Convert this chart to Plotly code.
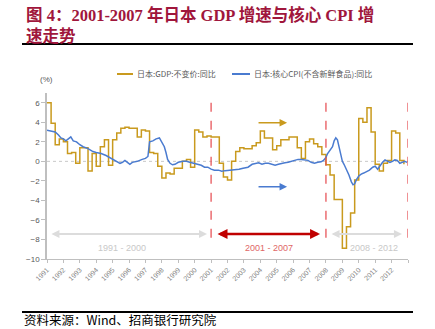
import plotly.graph_objects as go

# ---------------- data ----------------
years = list(range(1991, 2013))
tick_labels = [str(y) for y in years]

# Japan real GDP YoY, quarterly (1991Q1 .. 2012Q4)
gdp_q = [
    6.0, 3.9, 1.7, 2.3,
    2.0, 0.8, 0.9, -0.2,
    1.4, 1.4, -1.0, 0.8,
    -0.5, 1.5, 2.2, -0.4,
    2.2, 2.9, 3.4, 3.5,
    3.4, 3.4, 2.5, 3.2,
    3.1, 0.9, 0.8, -0.5,
    -1.7, -1.2, -1.3, -0.7,
    -0.7, 0.0, 0.2, -0.6,
    3.2, 3.0, 2.5, 2.6,
    2.5, 2.5, -0.2, -1.6,
    -1.9, 0.0, 1.0, 1.4,
    1.3, 1.3, 1.6, 1.9,
    3.1, 2.4, 2.4, 1.2,
    1.6, 2.2, 2.2, 2.5,
    2.5, 1.4, 0.3, 2.0,
    2.3, 1.8, 1.5, 0.7,
    -0.35, -1.4, -3.9, -3.9,
    -8.9, -6.7, -5.3, -1.9,
    4.4, 4.0, 5.5, 3.0,
    -0.3, -1.0, -0.2, 0.1,
    3.1, 2.9, 0.1, -0.3,
]
gdp_x = [1991 + i * 0.25 for i in range(len(gdp_q))]

# Japan core CPI (ex fresh food) YoY
cpi_x = [1991.0, 1991.25, 1991.5, 1991.7, 1991.85, 1992.0, 1992.15, 1992.3, 1992.45, 1992.6,
         1992.8, 1993.0, 1993.2, 1993.5, 1993.8, 1994.0, 1994.3, 1994.6, 1994.9, 1995.1,
         1995.3, 1995.45, 1995.6, 1995.75, 1995.9, 1996.05, 1996.2, 1996.5, 1996.8, 1997.0,
         1997.15, 1997.25, 1997.45, 1997.65, 1997.85, 1998.0, 1998.15, 1998.25, 1998.35, 1998.5,
         1998.65, 1998.8, 1999.0, 1999.3, 1999.5, 1999.7, 1999.9, 2000.2, 2000.4, 2000.6,
         2000.8, 2001.0, 2001.2, 2001.45, 2001.65, 2001.85, 2002.1, 2002.4, 2002.7, 2002.95,
         2003.25, 2003.5, 2003.7, 2003.9, 2004.1, 2004.3, 2004.5, 2004.7, 2004.9, 2005.1,
         2005.3, 2005.5, 2005.7, 2005.9, 2006.1, 2006.3, 2006.5, 2006.7, 2006.9, 2007.1,
         2007.3, 2007.5, 2007.7, 2007.85, 2008.0, 2008.1, 2008.25, 2008.4, 2008.5, 2008.6,
         2008.7, 2008.8, 2008.9, 2009.0, 2009.1, 2009.25, 2009.4, 2009.55, 2009.65, 2009.75,
         2009.85, 2010.0, 2010.15, 2010.3, 2010.45, 2010.65, 2010.85, 2011.0, 2011.15, 2011.3,
         2011.45, 2011.6, 2011.75, 2011.9, 2012.05, 2012.2, 2012.35, 2012.5, 2012.65, 2012.8,
         2012.95]
cpi_y = [3.2, 3.1, 3.0, 2.7, 2.4, 2.3, 2.1, 2.3, 2.5, 2.1,
         2.0, 1.7, 1.5, 1.3, 1.0, 0.9, 0.8, 0.6, 0.3, 0.1,
         -0.1, -0.2, -0.1, 0.1, -0.1, -0.3, -0.1, 0.0, 0.2, 0.3,
         0.5, 2.0, 2.1, 2.3, 2.4, 1.9, 1.5, 0.9, 0.2, -0.2,
         -0.35, -0.3, -0.1, 0.0, 0.0, -0.1, -0.2, -0.3, -0.4, -0.6,
         -0.6, -0.8, -0.9, -0.9, -1.0, -0.95, -0.9, -0.9, -0.8, -0.7,
         -0.6, -0.3, -0.2, -0.15, -0.3, -0.2, -0.2, -0.3, -0.4, -0.3,
         -0.2, -0.15, -0.1, 0.0, 0.1, 0.2, 0.2, 0.15, 0.1, -0.1,
         -0.2, -0.1, -0.05, 0.1, 0.4, 0.8, 1.1, 1.5, 2.1, 2.4,
         2.2, 1.4, 0.6, 0.0, -0.3, -0.8, -1.4, -2.1, -2.4, -2.3,
         -1.9, -1.5, -1.3, -1.2, -1.1, -0.9, -0.6, -0.5, -0.8, -0.4,
         -0.1, 0.15, 0.0, -0.1, 0.0, 0.15, 0.1, -0.2, -0.1, 0.0,
         -0.1]

gdp_name = "日本:GDP:不变价:同比"
cpi_name = "日本:核心CPI(不含新鲜食品):同比"
period_labels = ["1991 - 2000", "2001 - 2007", "2008 - 2012"]
period_bounds = [2001, 2008, 2013]

# ---------------- layout geometry ----------------
W, H = 435, 329
L, R, T, B = 47, 408, 93, 259


def px_x(px):
    return (px - L) / (R - L)


def px_y(py):
    return (B - py) / (B - T)


GOLD = "#C99A1E"
BLUE = "#4A7BD0"
RED_DASH = "#E5484D"
GREY_TXT = "#595959"

fig = go.Figure()
fig.add_trace(go.Scatter(x=gdp_x, y=gdp_q, mode="lines", line=dict(color=GOLD, width=1.5, shape="hv"),
                         name=gdp_name, showlegend=False))
fig.add_trace(go.Scatter(x=cpi_x, y=cpi_y, mode="lines", line=dict(color=BLUE, width=1.5),
                         name=cpi_name, showlegend=False))

shapes = []
# zero reference line
shapes.append(dict(type="line", xref="x", yref="y", x0=1991, x1=2013, y0=0, y1=0,
                   line=dict(color="#C8C8C8", width=1, dash="dot"), layer="below"))
# period separators
for xb in period_bounds:
    shapes.append(dict(type="line", xref="x", yref="y", x0=xb, x1=xb, y0=6.0, y1=-8.5,
                       line=dict(color=RED_DASH, width=1.2, dash="dash")))
# header / footer rules
shapes.append(dict(type="line", xref="paper", yref="paper", x0=px_x(22), x1=px_x(413),
                   y0=px_y(44), y1=px_y(44), line=dict(color="#000000", width=2)))
shapes.append(dict(type="line", xref="paper", yref="paper", x0=px_x(22), x1=px_x(413),
                   y0=px_y(312), y1=px_y(312), line=dict(color="#000000", width=2)))
# legend samples
shapes.append(dict(type="line", xref="paper", yref="paper", x0=px_x(117), x1=px_x(133),
                   y0=px_y(74), y1=px_y(74), line=dict(color=GOLD, width=2)))
shapes.append(dict(type="line", xref="paper", yref="paper", x0=px_x(232), x1=px_x(250),
                   y0=px_y(74), y1=px_y(74), line=dict(color=BLUE, width=2)))

annotations = []
annotations.append(dict(xref="paper", yref="paper", x=px_x(24), y=px_y(3), xanchor="left", yanchor="top",
                        align="left", showarrow=False,
                        text="<b>图 4：2001-2007 年日本 GDP 增速与核心 CPI 增<br>速走势</b>",
                        font=dict(family="Liberation Serif, Noto Sans CJK SC", size=16.5, color="#A0163C")))
annotations.append(dict(xref="paper", yref="paper", x=px_x(22), y=px_y(319), xanchor="left", yanchor="middle",
                        showarrow=False, text="资料来源：Wind、招商银行研究院",
                        font=dict(family="Noto Sans CJK SC", size=12.5, color="#000000")))
annotations.append(dict(xref="paper", yref="paper", x=px_x(135), y=px_y(74), xanchor="left", yanchor="middle",
                        showarrow=False, text=gdp_name,
                        font=dict(family="Noto Sans CJK SC", size=8, color=GREY_TXT)))
annotations.append(dict(xref="paper", yref="paper", x=px_x(252), y=px_y(74), xanchor="left", yanchor="middle",
                        showarrow=False, text=cpi_name,
                        font=dict(family="Noto Sans CJK SC", size=8, color=GREY_TXT)))
annotations.append(dict(xref="paper", yref="paper", x=px_x(46), y=px_y(80), xanchor="center", yanchor="middle",
                        showarrow=False, text="(%)",
                        font=dict(family="Liberation Sans", size=8, color=GREY_TXT)))

# trend arrows
annotations.append(dict(xref="x", yref="y", axref="x", ayref="y", x=2005.63, y=3.95, ax=2003.8, ay=3.95,
                        showarrow=True, arrowhead=2, arrowsize=1, arrowwidth=1.5, arrowcolor=GOLD, text=""))
annotations.append(dict(xref="x", yref="y", axref="x", ayref="y", x=2005.63, y=-2.6, ax=2003.8, ay=-2.6,
                        showarrow=True, arrowhead=2, arrowsize=1, arrowwidth=1.5, arrowcolor=BLUE, text=""))

# period double arrows
period_arrows = [(1991.18, 2000.75, "#DCDCDC", 2), (2001.3, 2007.64, "#C00000", 2.5),
                 (2008.25, 2012.63, "#DCDCDC", 2)]
for x0, x1, col, wdt in period_arrows:
    annotations.append(dict(xref="x", yref="y", axref="x", ayref="y", x=x1, y=-7.45, ax=x0, ay=-7.45,
                            showarrow=True, arrowhead=2, startarrowhead=2, arrowside="end+start",
                            arrowsize=0.8, startarrowsize=0.8, arrowwidth=wdt, arrowcolor=col, text=""))
label_x = [1995.57, 2004.53, 2010.9]
label_col = ["#C8C8C8", "#E06666", "#C8C8C8"]
for lx, lt, lc in zip(label_x, period_labels, label_col):
    annotations.append(dict(xref="x", yref="y", x=lx, y=-8.87, showarrow=False, text=lt,
                            font=dict(family="Liberation Sans", size=9, color=lc)))

fig.update_layout(
    width=W, height=H,
    margin=dict(l=L, r=W - R, t=T, b=H - B, pad=0),
    paper_bgcolor="white", plot_bgcolor="white",
    showlegend=False,
    shapes=shapes, annotations=annotations,
    xaxis=dict(range=[1991, 2013], tickmode="array", tickvals=years + [2013], ticktext=tick_labels + [""],
               tickangle=-45, showgrid=False, zeroline=False, showline=True, linecolor="#BFBFBF",
               linewidth=1, ticks="outside", ticklen=3, tickcolor="#BFBFBF",
               tickfont=dict(family="Liberation Sans", size=7, color="#7F7F7F")),
    yaxis=dict(range=[-10, 7], tickmode="array", tickvals=list(range(-10, 7, 2)), showgrid=False,
               zeroline=False, showline=True, linecolor="#BFBFBF", linewidth=1.5, ticks="outside",
               ticklen=4, tickcolor="#BFBFBF",
               tickfont=dict(family="Liberation Sans", size=8, color=GREY_TXT)),
)

fig.write_html("out.html")
